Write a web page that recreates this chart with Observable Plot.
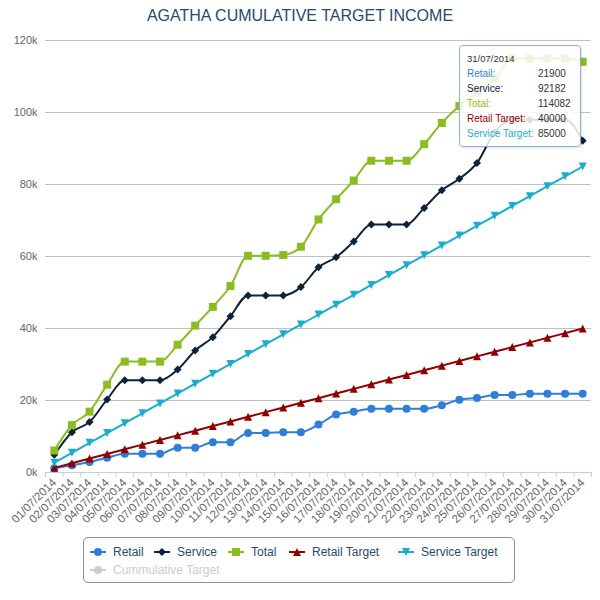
<!DOCTYPE html>
<html>
<head>
<meta charset="utf-8">
<script src="https://cdn.jsdelivr.net/npm/d3@7"></script>
<script src="https://cdn.jsdelivr.net/npm/@observablehq/plot@0.6"></script>
<style>
  html, body { margin: 0; padding: 0; background: #fff; }
  body { font-family: "Liberation Sans", Arial, sans-serif; }
  #wrap { position: relative; width: 600px; height: 600px; }
  #title { height: 24px; padding-top: 6px; text-align: center; font-size: 16px; line-height: 20px; color: #274b6d; }
  #chart svg { display: block; }
  #legend { position: absolute; left: 83px; top: 537px; width: 432px; height: 46px; border: 1px solid #909090; border-radius: 5px; box-sizing: border-box; }
  .li { position: absolute; display: flex; align-items: center; font-size: 12px; color: #274b6d; white-space: nowrap; height: 16px; }
  .li svg { margin-right: 7px; }
  .li.off { color: #ccc; }
  #tip { position: absolute; left: 459px; top: 45px; width: 122px; height: 102px; box-sizing: border-box; border: 1px solid #8fb0d8; border-radius: 4px; background: rgba(255,255,255,0.85); box-shadow: 1px 1px 2px rgba(0,0,0,0.12); padding: 5px 0 0 7px; font-size: 10px; }
  #tip .hd { height: 15px; line-height: 15px; font-size: 9.5px; color: #333; }
  #tip .row { height: 15px; line-height: 15px; display: flex; }
  #tip .row .lab { width: 71px; }
  #tip .row .val { color: #333; }
</style>
</head>
<body>
<div id="wrap">
  <div id="title">AGATHA CUMULATIVE TARGET INCOME</div>
  <div id="chart"></div>
  <div id="tip"></div>
  <div id="legend"></div>
</div>
<script>
const dates = ["01/07/2014","02/07/2014","03/07/2014","04/07/2014","05/07/2014","06/07/2014","07/07/2014","08/07/2014","09/07/2014","10/07/2014","11/07/2014","12/07/2014","13/07/2014","14/07/2014","15/07/2014","16/07/2014","17/07/2014","18/07/2014","19/07/2014","20/07/2014","21/07/2014","22/07/2014","23/07/2014","24/07/2014","25/07/2014","26/07/2014","27/07/2014","28/07/2014","29/07/2014","30/07/2014","31/07/2014"];

const retail = [1200, 2000, 2900, 4100, 5200, 5200, 5200, 6900, 6900, 8400, 8400, 11000, 11000, 11200, 11200, 13300, 16100, 16900, 17700, 17700, 17700, 17700, 18700, 20200, 20700, 21500, 21500, 21900, 21900, 21900, 21900];
const service = [4900, 11200, 14000, 20300, 25600, 25600, 25600, 28600, 33900, 37600, 43400, 49200, 49200, 49200, 51500, 57000, 59800, 64200, 68900, 68900, 68900, 73500, 78400, 81600, 86000, 94500, 98000, 98000, 98000, 98000, 92182];
const total = [6100, 13200, 16900, 24400, 30800, 30800, 30800, 35500, 40800, 46000, 51800, 60200, 60200, 60400, 62700, 70300, 75900, 81100, 86600, 86600, 86600, 91200, 97100, 101800, 105500, 109400, 115000, 115000, 115000, 115000, 114082];
const retailTarget = [1290, 2580, 3870, 5160, 6450, 7740, 9030, 10320, 11610, 12900, 14190, 15480, 16770, 18060, 19350, 20650, 21940, 23230, 24520, 25810, 27100, 28390, 29680, 30970, 32260, 33550, 34840, 36130, 37420, 38710, 40000];
const serviceTarget = [2740, 5480, 8230, 10970, 13710, 16450, 19190, 21940, 24680, 27420, 30160, 32900, 35650, 38390, 41130, 43870, 46610, 49350, 52100, 54840, 57580, 60320, 63060, 65810, 68550, 71290, 74030, 76770, 79520, 82260, 85000];

const seriesNames = ["Retail", "Service", "Total", "Retail Target", "Service Target"];
const hiddenSeries = ["Cummulative Target"];
const yTicks = [0, 20000, 40000, 60000, 80000, 100000, 120000];
const tipDate = "31/07/2014";

const seriesValues = [retail, service, total, retailTarget, serviceTarget];
const colors = ["#2f7ed8", "#0d233a", "#8bbc21", "#910000", "#1aadce"];

// Highcharts-like marker shapes (radius r)
const R = s => Math.sqrt(s / Math.PI);
const shapes = {
  circle: {draw(c, s) { const r = R(s); c.moveTo(r, 0); c.arc(0, 0, r, 0, 2 * Math.PI); }},
  diamond: {draw(c, s) { const r = R(s); c.moveTo(0, -r); c.lineTo(r, 0); c.lineTo(0, r); c.lineTo(-r, 0); c.closePath(); }},
  square: {draw(c, s) { const r = R(s); c.rect(-r, -r, 2 * r, 2 * r); }},
  triUp: {draw(c, s) { const r = R(s); c.moveTo(0, -r); c.lineTo(r, r); c.lineTo(-r, r); c.closePath(); }},
  triDown: {draw(c, s) { const r = R(s); c.moveTo(0, r); c.lineTo(r, -r); c.lineTo(-r, -r); c.closePath(); }}
};
const shapeOf = [shapes.circle, shapes.diamond, shapes.square, shapes.triUp, shapes.triDown];

const rows = [];
seriesNames.forEach((name, k) => seriesValues[k].forEach((v, i) => rows.push({series: name, date: dates[i], value: v})));

const W = 600, H = 507, mL = 45, mR = 9, mT = 10, mB = 65;
const step = (W - mL - mR) / dates.length;

const marks = [
  Plot.gridY(yTicks.filter(d => d > 0), {stroke: "#c0c0c0", strokeOpacity: 1}),
  Plot.ruleY([0], {stroke: "#c0d0e0", strokeWidth: 1}),
  Plot.ruleX(dates, {x: d => d, y1: 0, y2: 0, insetBottom: -5, dx: -step / 2, stroke: "#c0d0e0"}),
  Plot.ruleX(dates.slice(-1), {x: d => d, y1: 0, y2: 0, insetBottom: -5, dx: step / 2, stroke: "#c0d0e0"}),
  Plot.axisY({ticks: yTicks, tickFormat: d => d / 1000 + "k", tickSize: 0, tickPadding: 8, fontSize: 11, color: "#666", label: null}),
  Plot.axisX({ticks: dates, tickSize: 0, tickPadding: 8, tickRotate: -45, fontSize: 11.5, color: "#666", label: null})
];
seriesNames.forEach((name, k) => {
  const data = rows.filter(d => d.series === name);
  marks.push(Plot.line(data, {x: "date", y: "value", stroke: colors[k], strokeWidth: 2, curve: "monotone-x"}));
  marks.push(Plot.dot(data, {x: "date", y: "value", fill: colors[k], stroke: "none", r: 4, symbol: shapeOf[k]}));
});

const chart = Plot.plot({
  width: W, height: H,
  marginLeft: mL, marginRight: mR, marginTop: mT, marginBottom: mB,
  x: {type: "point", domain: dates, padding: 0.5, align: 0.5, round: false},
  y: {domain: [0, 120000]},
  style: {fontFamily: "'Liberation Sans', Arial, sans-serif", background: "white", overflow: "visible"},
  marks
});
document.getElementById("chart").appendChild(chart);

// Legend
const legend = document.getElementById("legend");
const legendItems = [
  {name: seriesNames[0], color: colors[0], shape: "circle", left: 6, top: 6},
  {name: seriesNames[1], color: colors[1], shape: "diamond", left: 70, top: 6},
  {name: seriesNames[2], color: colors[2], shape: "square", left: 144, top: 6},
  {name: seriesNames[3], color: colors[3], shape: "triUp", left: 205, top: 6},
  {name: seriesNames[4], color: colors[4], shape: "triDown", left: 314, top: 6},
  {name: hiddenSeries[0], color: "#ccc", shape: "circle", left: 6, top: 24, off: true}
];
function markerPath(shape, r) {
  const ctx = d3.path();
  shapes[shape].draw(ctx, r * r * Math.PI);
  return ctx.toString();
}
legendItems.forEach(it => {
  const div = document.createElement("div");
  div.className = "li" + (it.off ? " off" : "");
  div.style.left = it.left + "px";
  div.style.top = it.top + "px";
  div.innerHTML = `<svg width="16" height="12" viewBox="0 0 16 12"><line x1="0" x2="16" y1="6" y2="6" stroke="${it.color}" stroke-width="2"/><path transform="translate(8,6)" d="${markerPath(it.shape, 4)}" fill="${it.color}"/></svg><span>${it.name}</span>`;
  legend.appendChild(div);
});

// Tooltip
const tip = document.getElementById("tip");
const last = dates.indexOf(tipDate);
let html = `<div class="hd">${tipDate}</div>`;
seriesNames.forEach((name, k) => {
  html += `<div class="row"><span class="lab" style="color:${colors[k]}">${name}:</span><span class="val">${seriesValues[k][last]}</span></div>`;
});
tip.innerHTML = html;
</script>
</body>
</html>
